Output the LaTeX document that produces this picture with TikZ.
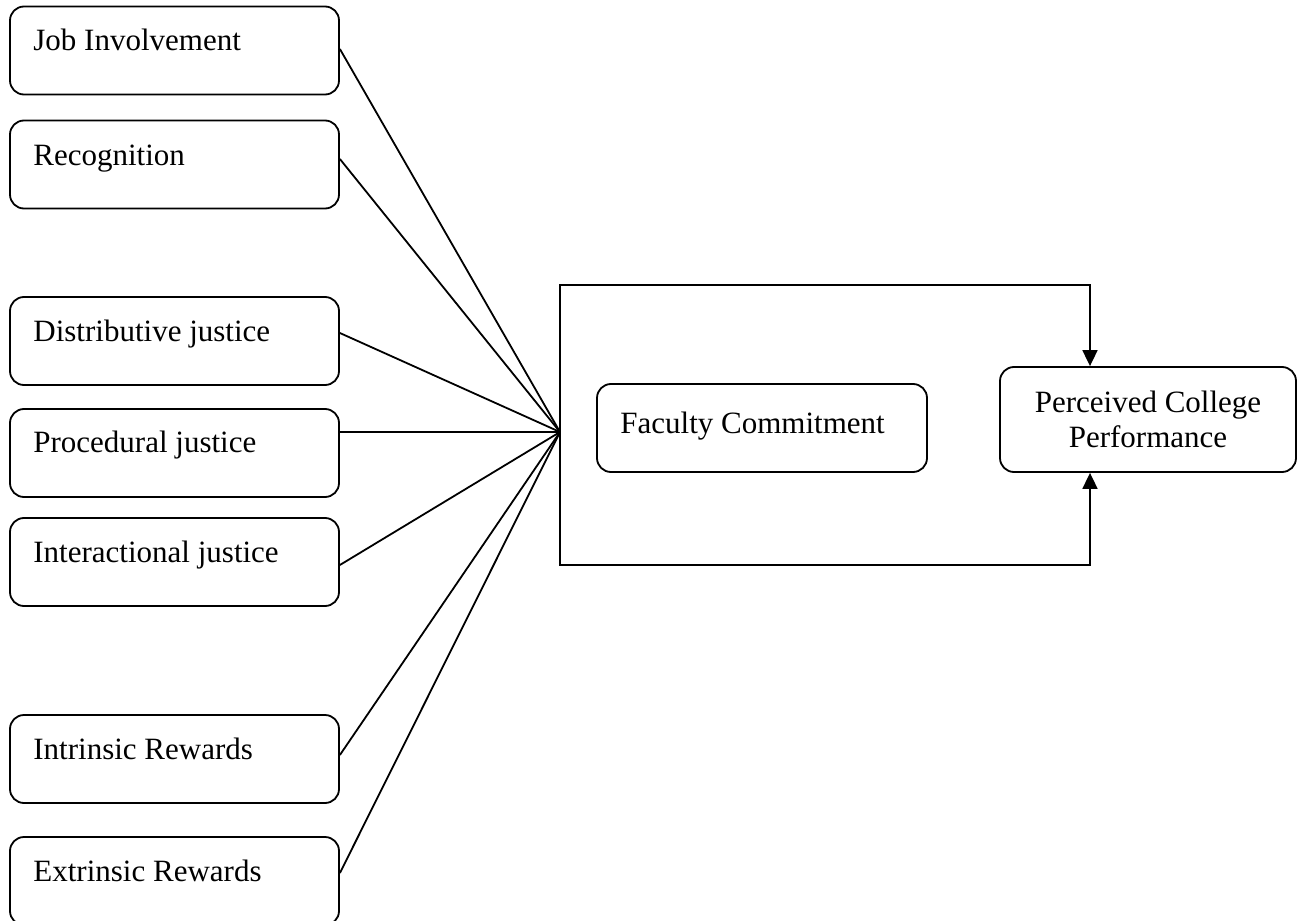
\documentclass[tikz,border=0pt]{standalone}
\usepackage{fontspec}
\setmainfont{Liberation Serif}
\usetikzlibrary{arrows.meta,calc}
\begin{document}
\begin{tikzpicture}[x=0.5pt,y=-0.5pt,
  box/.style={draw, line width=0.9pt, rounded corners=7pt, inner sep=0pt},
  lbox/.style={box, minimum width=164.5pt, minimum height=44pt},
  lbl/.style={anchor=base west, inner sep=0pt, font=\fontsize{15.5}{18}\selectfont},
  conn/.style={line width=0.9pt},
  arr/.style={line width=0.9pt, -{Triangle[width=7.5pt,length=8pt]}}]
\useasboundingbox (0,0) rectangle (1298,921);
% left boxes
\node[lbox] (ji) at (174.5,50.5) {};
\node[lbl] (jit) at (33,50) {Job Involvement};
\node[lbox] (rc) at (174.5,164.5) {};
\node[lbl] (rct) at (33,165) {Recognition};
\node[lbox] (dj) at (174.5,341) {};
\node[lbl] (djt) at (33,341) {Distributive justice};
\node[lbox] (pj) at (174.5,453) {};
\node[lbl] (pjt) at (33,452) {Procedural justice};
\node[lbox] (ij) at (174.5,562) {};
\node[lbl] (ijt) at (33,562) {Interactional justice};
\node[lbox] (ir) at (174.5,759) {};
\node[lbl] (irt) at (33,759) {Intrinsic Rewards};
\node[lbox] (er) at (174.5,881) {};
\node[lbl] (ert) at (33,881) {Extrinsic Rewards};
% centre boxes
\node[box, minimum width=165pt, minimum height=44pt] (fc) at (762,428) {};
\node[lbl] (fct) at (620,433) {Faculty Commitment};
\node[box, minimum width=148pt, minimum height=52.5pt, align=center,
      font=\fontsize{15.5}{17.5}\selectfont] (pc) at (1148,419.5) {Perceived College\\Performance};
% convergence and frame
\coordinate (c) at (560,432);
\coordinate (tr) at (1090,285);
\coordinate (br) at (1090,565);
\draw[conn] ([yshift=0.75pt]ji.east) -- (c);
\draw[conn] ([yshift=2.75pt]rc.east) -- (c);
\draw[conn] ([yshift=4pt]dj.east) -- (c);
\draw[conn] ([yshift=10.5pt]pj.east) -- (c);
\draw[conn] ([yshift=-1.5pt]ij.east) -- (c);
\draw[conn] ([yshift=2pt]ir.east) -- (c);
\draw[conn] ([yshift=4pt]er.east) -- (c);
\draw[arr] (c) |- (tr) -- (tr |- pc.north);
\draw[arr] (c) |- (br) -- (br |- pc.south);
\end{tikzpicture}
\end{document}
